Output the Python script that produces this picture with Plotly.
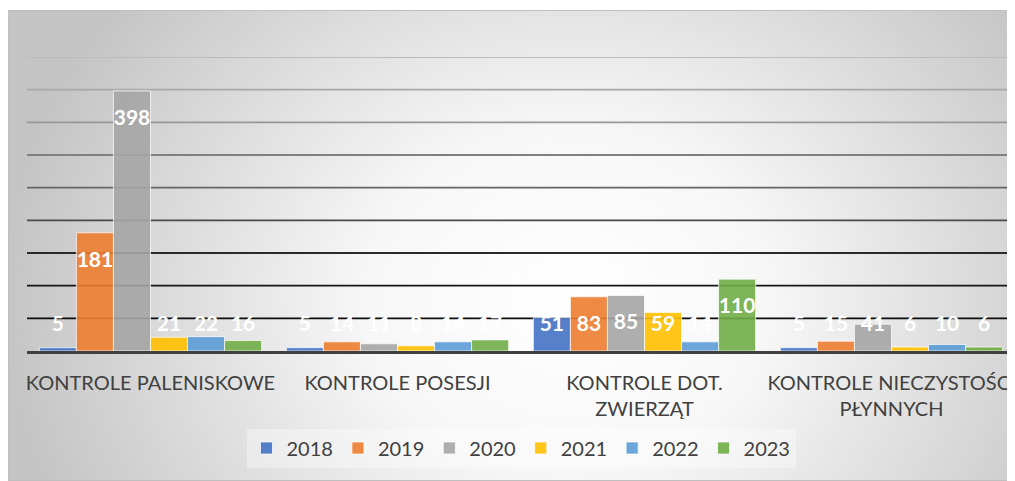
import base64
import plotly.graph_objects as go

# ---- data ----
categories = ["KONTROLE PALENISKOWE", "KONTROLE POSESJI",
              "KONTROLE DOT.<br>ZWIERZĄT", "KONTROLE NIECZYSTOŚCI<br>PŁYNNYCH"]
years = ["2018", "2019", "2020", "2021", "2022", "2023"]
v2018 = [5, 5, 51, 5]
v2019 = [181, 14, 83, 15]
v2020 = [398, 11, 85, 41]
v2021 = [21, 8, 59, 6]
v2022 = [22, 14, 14, 10]
v2023 = [16, 17, 110, 6]
series = [v2018, v2019, v2020, v2021, v2022, v2023]
grid_vals = [50, 100, 150, 200, 250, 300, 350, 400, 450]

# ---- styles ----
colors = ["rgba(68,114,196,0.9)", "rgba(237,125,49,0.9)", "rgba(165,165,165,0.9)",
          "rgba(255,192,0,0.9)", "rgba(91,155,213,0.9)", "rgba(112,173,71,0.9)"]
grid_colors = ["#0d0d0d", "#161616", "#2a2a2a", "#4a4a4a", "#666666",
               "#808080", "#979797", "#a8a8a8", "#bcbcbc"]
FONT = "Lato"
TXT = "#404040"

# page body has an 8px margin; size the figure to fill the rest of the window
W, H = 1007, 473
ML, MR, MT, MB = 19, 0, 49, 130
PW, PH = W - ML - MR, H - MT - MB

n_series = len(series)
bargap = 0.1
slot = (1 - bargap) / n_series

fig = go.Figure()
xs = list(range(len(categories)))
for j, (name, vals) in enumerate(zip(years, series)):
    fig.add_trace(go.Bar(
        x=xs, y=vals, name=name,
        marker=dict(color=colors[j], line=dict(color="rgba(255,255,255,0.7)", width=1)),
        hoverinfo="y+name",
    ))
# data labels
for j, vals in enumerate(series):
    fig.add_trace(go.Scatter(
        x=[i + (j - (n_series - 1) / 2) * slot for i in xs],
        y=[max(v - 44, 38) for v in vals],
        text=[str(v) for v in vals],
        mode="text", showlegend=False, hoverinfo="skip", cliponaxis=False,
        textfont=dict(family=FONT, size=21, color="white", weight="bold"),
    ))

# gradient background image (chart area)
bx0, by0 = 0, 2
bw, bh = W - bx0, H - by0
svg = f'''<svg xmlns="http://www.w3.org/2000/svg" width="{bw}" height="{bh}" viewBox="0 0 {bw} {bh}" preserveAspectRatio="none">
<defs><radialGradient id="g" gradientUnits="userSpaceOnUse" cx="560" cy="290" r="570"
 gradientTransform="translate(560 290) scale(1 0.85) translate(-560 -290)">
<stop offset="0" stop-color="#ffffff"/><stop offset="0.35" stop-color="#f7f7f7"/>
<stop offset="1" stop-color="#c4c4c4"/></radialGradient></defs>
<rect x="0" y="0" width="{bw}" height="{bh}" fill="url(#g)" stroke="#bfbfbf" stroke-width="2"/>
</svg>'''
src = "data:image/svg+xml;base64," + base64.b64encode(svg.encode()).decode()
fig.add_layout_image(dict(
    source=src, xref="paper", yref="paper",
    x=(bx0 - ML) / PW, y=(H - MB - by0) / PH,
    sizex=bw / PW, sizey=bh / PH,
    xanchor="left", yanchor="top", sizing="stretch", layer="below",
))

for gv, gc in zip(grid_vals, grid_colors):
    fig.add_shape(type="line", xref="paper", yref="y", x0=0, x1=1, y0=gv, y1=gv,
                  line=dict(color=gc, width=1.8), layer="below")

fig.update_layout(
    width=W, height=H,
    margin=dict(l=ML, r=MR, t=MT, b=MB, pad=0),
    paper_bgcolor="white", plot_bgcolor="rgba(0,0,0,0)",
    barmode="group", bargap=bargap, bargroupgap=0,
    font=dict(family=FONT, color=TXT),
    xaxis=dict(range=[-0.5, len(categories) - 0.5], tickvals=xs, ticktext=categories,
               showgrid=False, zeroline=False, showline=True, linecolor="#404040",
               linewidth=3, ticks="", tickfont=dict(family=FONT, size=20, color=TXT),
               ticklabelstandoff=12, ticklabeloverflow="allow"),
    yaxis=dict(range=[0, 450], showgrid=False, zeroline=False, showticklabels=False,
               ticks=""),
    legend=dict(orientation="h", x=0.5, xanchor="center", y=(H - MB - 440) / PH,
                yanchor="middle", bgcolor="rgba(255,255,255,0.35)",
                font=dict(family=FONT, size=20, color=TXT), itemwidth=30),
    showlegend=True,
)

fig.write_html("out.html")
